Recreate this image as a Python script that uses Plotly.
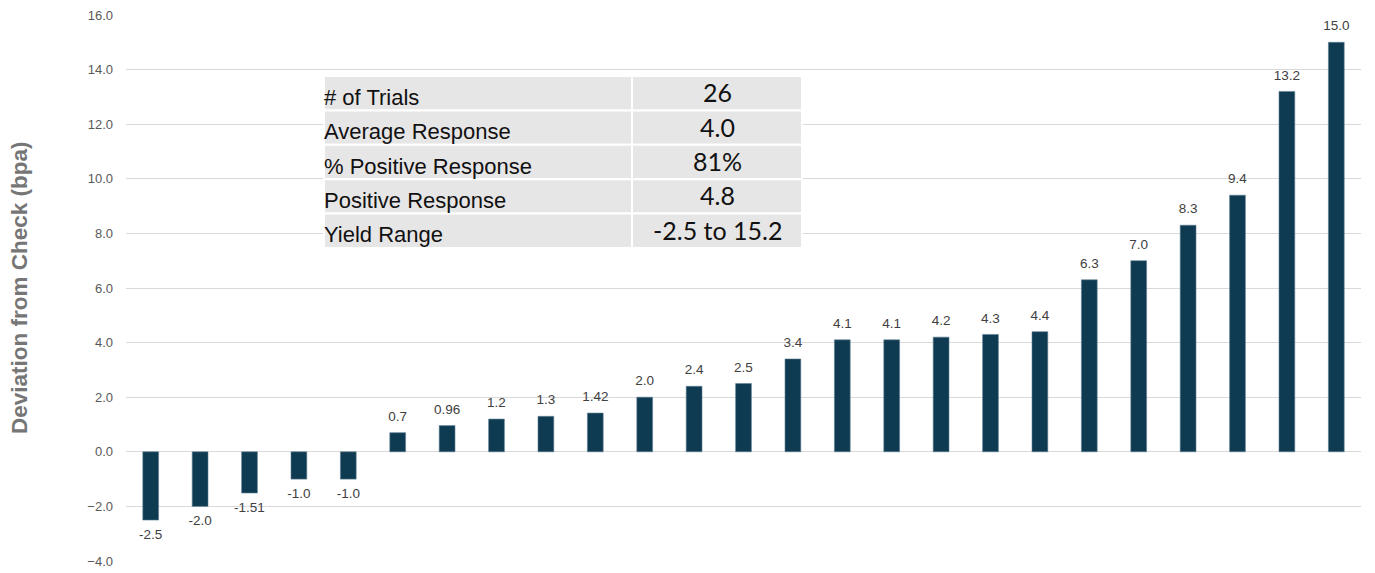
import plotly.graph_objects as go

# ---- data ----
trial_index = list(range(1, 26))
deviation = [-2.5, -2.0, -1.51, -1.0, -1.0, 0.7, 0.96, 1.2, 1.3, 1.42,
             2.0, 2.4, 2.5, 3.4, 4.1, 4.1, 4.2, 4.3, 4.4, 6.3,
             7.0, 8.3, 9.4, 13.2, 15.0]
value_labels = ["-2.5", "-2.0", "-1.51", "-1.0", "-1.0", "0.7", "0.96", "1.2", "1.3", "1.42",
                "2.0", "2.4", "2.5", "3.4", "4.1", "4.1", "4.2", "4.3", "4.4", "6.3",
                "7.0", "8.3", "9.4", "13.2", "15.0"]
y_ticks = [-4, -2, 0, 2, 4, 6, 8, 10, 12, 14, 16]
table_labels = ["# of Trials", "Average Response", "% Positive Response",
                "Positive Response", "Yield Range"]
table_values = ["26", "4.0", "81%", "4.8", "-2.5 to 15.2"]

# ---- layout geometry (pixels) ----
W, H = 1375, 573
L, R, T, B = 126, 14, 15, 12
plot_w = W - L - R
plot_h = H - T - B


def px_x(p):
    return (p - L) / plot_w


def px_y(p):
    return (H - B - p) / plot_h


fig = go.Figure()
fig.add_trace(go.Bar(
    x=trial_index,
    y=deviation,
    marker=dict(color="#0e3a52", line=dict(color="#5f8194", width=0.6)),
    width=0.32,
    hoverinfo="skip",
))
# value labels (outside the bar ends)
fig.add_trace(go.Scatter(
    x=trial_index,
    y=deviation,
    mode="markers+text",
    text=value_labels,
    textposition=["top center" if v >= 0 else "bottom center" for v in deviation],
    marker=dict(size=12, opacity=0),
    textfont=dict(family="Liberation Sans, Arial, sans-serif", size=13.5, color="#404040"),
    cliponaxis=False,
    hoverinfo="skip",
))

shapes = []
annotations = []

# Table
tbl_left, tbl_mid, tbl_right = 324, 632, 802
tbl_top, tbl_bot = 76, 248
n = len(table_labels)
row_h = (tbl_bot - tbl_top) / n
for i, (lab, val) in enumerate(zip(table_labels, table_values)):
    y0 = tbl_top + i * row_h
    y1 = y0 + row_h
    for (a, b) in [(tbl_left, tbl_mid), (tbl_mid, tbl_right)]:
        shapes.append(dict(type="rect", xref="paper", yref="paper",
                           x0=px_x(a), x1=px_x(b), y0=px_y(y1), y1=px_y(y0),
                           fillcolor="#e7e6e6", line=dict(color="white", width=2),
                           layer="above"))
    yc = (y0 + y1) / 2
    annotations.append(dict(xref="paper", yref="paper", x=px_x(tbl_left - 2), y=px_y(yc + 4),
                            xanchor="left", yanchor="middle", showarrow=False,
                            text=lab, font=dict(family="Liberation Sans, Arial, sans-serif",
                                                size=22, color="#111111")))
    annotations.append(dict(xref="paper", yref="paper", x=px_x((tbl_mid + tbl_right) / 2),
                            y=px_y(yc - 1), xanchor="center", yanchor="middle", showarrow=False,
                            text=val, font=dict(family="Lato, Carlito, sans-serif",
                                                size=25, color="#111111")))

# Y-axis title
annotations.append(dict(xref="paper", yref="paper", x=px_x(19), y=0.5,
                        xanchor="center", yanchor="middle", showarrow=False, textangle=-90,
                        text="<b>Deviation from Check (bpa)</b>",
                        font=dict(family="Liberation Sans, Arial, sans-serif", size=22.5,
                                  color="#767676")))

fig.update_layout(
    width=W, height=H,
    margin=dict(l=L, r=R, t=T, b=B, autoexpand=False),
    paper_bgcolor="white", plot_bgcolor="white",
    showlegend=False,
    shapes=shapes,
    annotations=annotations,
    xaxis=dict(range=[0.5, 25.5], showticklabels=False, showgrid=False,
               zeroline=False, showline=False, ticks=""),
    yaxis=dict(range=[-4, 16], tickvals=y_ticks, tickformat=".1f",
               showgrid=True, gridcolor="#d9d9d9", gridwidth=1.3,
               zeroline=True, zerolinecolor="#d9d9d9", zerolinewidth=1.3,
               showline=False, ticks="", ticklabelstandoff=12,
               tickfont=dict(family="Liberation Sans, Arial, sans-serif", size=13,
                             color="#595959")),
)

fig.write_html("out.html", config={"displayModeBar": False},
               post_script="document.body.style.margin='0';")
